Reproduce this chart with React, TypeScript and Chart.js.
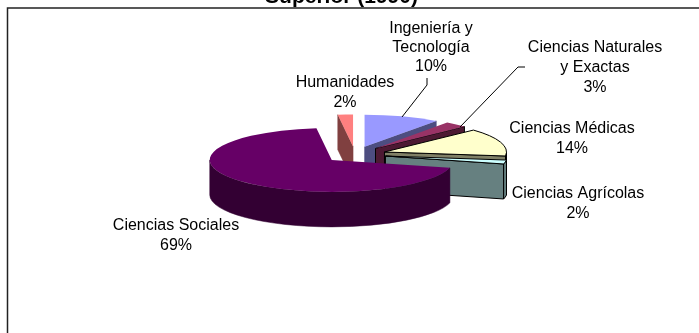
import React, { useEffect, useRef } from "react";
import { Chart, registerables } from "chart.js";

Chart.register(...registerables);

const categories = [
  "Ingeniería y\nTecnología",
  "Ciencias Naturales\ny Exactas",
  "Ciencias Médicas",
  "Ciencias Agrícolas",
  "Ciencias Sociales",
  "Humanidades",
];
const shares = [10, 3, 14, 2, 69, 2];
const titleLines = ["Superior (1990)"];

const topColors = ["#9999FF", "#993366", "#FFFFCC", "#CCFFFF", "#660066", "#FF8080"];
const wallColors = ["#4D4D80", "#4D1933", "#808066", "#668080", "#330033", "#804040"];
const outlineColors = [null, null, "#000000", "#000000", null, null];
const wallOutlineColors = [null, "#000000", "#000000", "#000000", null, null];
const wallOrder = [0, 5, 1, 2, 3, 4];

const OX = 16;
const OY = 15;
const CENTER_X = 355 + OX;
const CENTER_Y = 154.5 + OY;
const RADIUS = 122;
const SQUASH = 32 / 122;
const DEPTH = 35;
const EXPLODE = 31;

const labelBoxes = [
  { x: 431, y: 29, lh: 19 },
  { x: 595, y: 48, lh: 20 },
  { x: 572, y: 128.5, lh: 20 },
  { x: 578, y: 194, lh: 19.5 },
  { x: 176, y: 226, lh: 20 },
  { x: 345, y: 83, lh: 20 },
];
const leaders = [
  [[427, 78], [427, 85], [402, 117]],
  [[525, 67], [518, 67], [460, 127]],
];

function geometry(arc: any) {
  const mid = (arc.startAngle + arc.endAngle) / 2;
  return {
    cx: CENTER_X + Math.cos(mid) * EXPLODE,
    cy: CENTER_Y + Math.sin(mid) * EXPLODE * SQUASH,
    a: arc.startAngle,
    b: arc.endAngle,
  };
}

function radialFace(ctx: CanvasRenderingContext2D, g: any, t: number) {
  const x = g.cx + Math.cos(t) * RADIUS;
  const y = g.cy + Math.sin(t) * RADIUS * SQUASH;
  ctx.beginPath();
  ctx.moveTo(g.cx, g.cy);
  ctx.lineTo(x, y);
  ctx.lineTo(x, y + DEPTH);
  ctx.lineTo(g.cx, g.cy + DEPTH);
  ctx.closePath();
}

const pie3d = {
  id: "pie3d",
  beforeDraw(chart: any) {
    const ctx = chart.ctx;
    ctx.save();
    ctx.strokeStyle = "#222222";
    ctx.lineWidth = 1.5;
    ctx.beginPath();
    ctx.moveTo(7.5 + OX, 333 + OY);
    ctx.lineTo(7.5 + OX, 8 + OY);
    ctx.lineTo(699 + OX, 8 + OY);
    ctx.stroke();
    ctx.restore();
  },
  beforeDatasetsDraw(chart: any) {
    const ctx = chart.ctx;
    const arcs = chart.getDatasetMeta(0).data;
    ctx.save();
    wallOrder.forEach((i) => {
      const g = geometry(arcs[i]);
      ctx.fillStyle = wallColors[i];
      const stroke = wallOutlineColors[i];
      ctx.strokeStyle = stroke || wallColors[i];
      ctx.lineWidth = stroke ? 1 : 0.5;
      if (Math.cos(g.b) > 1e-6) {
        radialFace(ctx, g, g.b);
        ctx.fill();
        ctx.stroke();
      }
      if (-Math.cos(g.a) > 1e-6) {
        radialFace(ctx, g, g.a);
        ctx.fill();
        ctx.stroke();
      }
      const a = Math.max(g.a, 0);
      const b = Math.min(g.b, Math.PI);
      if (b > a) {
        ctx.beginPath();
        ctx.ellipse(g.cx, g.cy, RADIUS, RADIUS * SQUASH, 0, a, b);
        ctx.ellipse(g.cx, g.cy + DEPTH, RADIUS, RADIUS * SQUASH, 0, b, a, true);
        ctx.closePath();
        ctx.fill();
        ctx.stroke();
      }
    });
    ctx.restore();
  },
  beforeDatasetDraw(chart: any) {
    const ctx = chart.ctx;
    const arcs = chart.getDatasetMeta(0).data;
    arcs.forEach((arc: any) => {
      const g = geometry(arc);
      ctx.save();
      ctx.transform(1, 0, 0, SQUASH, g.cx - arc.x, g.cy - arc.y * SQUASH);
      arc.draw(ctx);
      ctx.restore();
    });
    return false;
  },
  afterDatasetsDraw(chart: any) {
    const ctx = chart.ctx;
    const arcs = chart.getDatasetMeta(0).data;
    ctx.save();
    arcs.forEach((arc: any, i: number) => {
      if (!outlineColors[i]) return;
      const g = geometry(arc);
      ctx.strokeStyle = outlineColors[i];
      ctx.lineWidth = 1;
      ctx.beginPath();
      ctx.moveTo(g.cx, g.cy);
      ctx.ellipse(g.cx, g.cy, RADIUS, RADIUS * SQUASH, 0, g.a, g.b);
      ctx.closePath();
      ctx.stroke();
    });
    ctx.restore();
  },
  afterDraw(chart: any) {
    const ctx = chart.ctx;
    ctx.save();
    ctx.strokeStyle = "#000000";
    ctx.lineWidth = 1;
    leaders.forEach((pts) => {
      ctx.beginPath();
      pts.forEach(([x, y], k) => {
        if (k === 0) ctx.moveTo(x + OX, y + OY);
        else ctx.lineTo(x + OX, y + OY);
      });
      ctx.stroke();
    });
    ctx.fillStyle = "#000000";
    ctx.font = '16px "Liberation Sans"';
    ctx.textAlign = "center";
    ctx.textBaseline = "middle";
    categories.forEach((name, i) => {
      const box = labelBoxes[i];
      const lines = [...name.split("\n"), `${shares[i]}%`];
      lines.forEach((line, k) => {
        ctx.fillText(line, box.x + OX, box.y + OY + k * box.lh);
      });
    });
    ctx.restore();
  },
};

export default function App() {
  const ref = useRef<HTMLCanvasElement>(null);
  useEffect(() => {
    const chart = new Chart(ref.current as HTMLCanvasElement, {
      type: "pie",
      data: {
        labels: categories.map((c) => c.replace("\n", " ")),
        datasets: [
          {
            data: shares,
            backgroundColor: topColors,
            borderWidth: 0,
            clip: false,
          } as any,
        ],
      },
      options: {
        animation: false,
        responsive: false,
        devicePixelRatio: 1,
        radius: RADIUS,
        plugins: {
          legend: { display: false },
          tooltip: { enabled: false },
          title: {
            display: true,
            text: titleLines,
            color: "#000000",
            padding: 0,
            font: { family: '"Liberation Sans"', size: 21, weight: "bold" },
          },
        },
      } as any,
      plugins: [pie3d],
    });
    return () => chart.destroy();
  }, []);
  return (
    <div style={{ position: "fixed", left: -OX, top: -OY, width: 699 + OX, height: 333 + OY, overflow: "hidden" }}>
      <canvas ref={ref} width={699 + OX} height={333 + OY} style={{ display: "block" }} />
    </div>
  );
}
